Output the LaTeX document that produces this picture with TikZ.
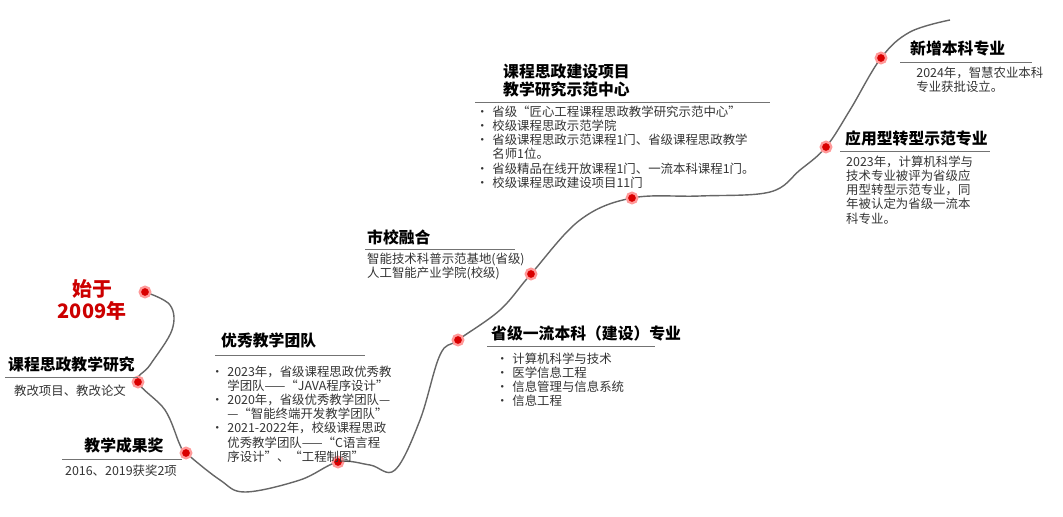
\documentclass[tikz,border=0pt]{standalone}
\usepackage{fontspec}
\setmainfont{Noto Sans CJK SC}
\usetikzlibrary{positioning}
\newcommand{\bul}{\makebox[1.3em][l]{\textbullet}}
\newcommand{\ind}{\hspace*{1.3em}}
\begin{document}
\begin{tikzpicture}[x=0.03cm,y=-0.03cm,
  mark dot/.style={circle,inner sep=0pt,minimum size=9pt,fill=red!85!black,
    draw=red!40,line width=2pt},
  title/.style={anchor=west,font=\fontsize{13.5}{15.5}\selectfont\bfseries,inner sep=0pt},
  body/.style={anchor=north west,align=left,font=\fontsize{10.6}{12}\selectfont,
    text=black!80,inner sep=0pt},
  rule/.style={draw=black!55,line width=0.6pt}]
\useasboundingbox (0,0) rectangle (1063,517);
% the road
\draw[black!60,line width=1.2pt] plot[smooth,tension=0.6] coordinates{
  (145,292) (170,305) (172,330) (150,365) (138,382) (165,410) (180,445) (186,453)
  (220,480) (245,492) (300,480) (338,462) (370,465) (395,470) (420,420) (440,355)
  (458,340) (500,310) (531,274) (580,220) (632,198) (700,196) (770,192) (800,170)
  (826,147) (850,110) (881,58) (910,32) (950,20)};
% dots
\foreach \n/\p in {d1/{(145,292)},d2/{(138,382)},d3/{(186,453)},d4/{(338,462)},
  d5/{(458,340)},d6/{(531,274)},d7/{(632,198)},d8/{(826,147)},d9/{(881,58)}}
  \node[mark dot] (\n) at \p {};
% start
\node[text=red!80!black,align=center,font=\fontsize{17}{19}\selectfont\bfseries]
  (start) at (92,300) {始于\\2009年};
% research
\node[title] (t1) at (8,364) {课程思政教学研究};
\draw[rule] (5,377) -- (138,377);
\node[body,anchor=north] (b1) at (70,385) {教改项目、教改论文};
% award
\node[title,anchor=center] (t2) at (124,445) {教学成果奖};
\draw[rule] (62,459) -- (182,459);
\node[body,anchor=north] (b2) at (121,465) {2016、2019获奖2项};
% team
\node[title] (t3) at (221,340) {优秀教学团队};
\draw[rule] (215,355) -- (365,355);
\node[body] (b3) at (211,366) {\bul 2023年，省级课程思政优秀教\\
  \ind 学团队——“JAVA程序设计”\\
  \bul 2020年，省级优秀教学团队—\\
  \ind —“智能终端开发教学团队”\\
  \bul 2021-2022年，校级课程思政\\
  \ind 优秀教学团队——“C语言程\\
  \ind 序设计”、“工程制图”};
% city
\node[title] (t4) at (367,237) {市校融合};
\draw[rule] (365,249) -- (515,249);
\node[body] (b4) at (367,253) {智能技术科普示范基地(省级)\\人工智能产业学院(校级)};
% first class
\node[title] (t5) at (491,333) {省级一流本科（建设）专业};
\draw[rule] (487,346) -- (655,346);
\node[body] (b5) at (496,353) {\bul 计算机科学与技术\\\bul 医学信息工程\\
  \bul 信息管理与信息系统\\\bul 信息工程};
% center
\node[title,anchor=north west,align=left] (t6) at (503,64) {课程思政建设项目\\教学研究示范中心};
\draw[rule] (475,102) -- (770,102);
\node[body] (b6) at (476,106) {\bul 省级“匠心工程课程思政教学研究示范中心”\\
  \bul 校级课程思政示范学院\\
  \bul 省级课程思政示范课程1门、省级课程思政教学\\
  \ind 名师1位。\\
  \bul 省级精品在线开放课程1门、一流本科课程1门。\\
  \bul 校级课程思政建设项目11门};
% applied
\node[title] (t7) at (845,138) {应用型转型示范专业};
\draw[rule] (840,151) -- (990,151);
\node[body] (b7) at (846,156) {2023年，计算机科学与\\技术专业被评为省级应\\
  用型转型示范专业，同\\年被认定为省级一流本\\科专业。};
% new
\node[title] (t8) at (910,48) {新增本科专业};
\draw[rule] (900,62) -- (1032,62);
\node[body] (b8) at (900,67) {\ind 2024年，智慧农业本科\\\ind 专业获批设立。};
\end{tikzpicture}
\end{document}
